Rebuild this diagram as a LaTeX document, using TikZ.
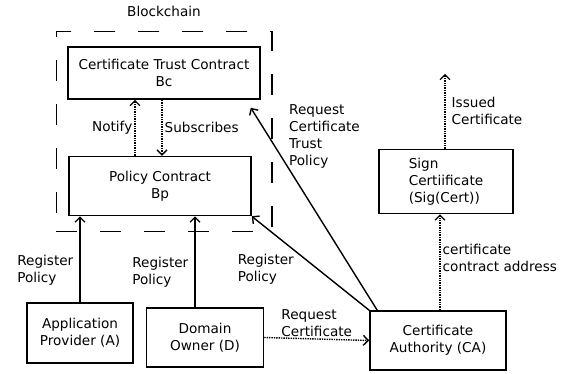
\documentclass[tikz,border=0pt]{standalone}
\usepackage{fontspec}
\setmainfont{DejaVu Sans}
\usetikzlibrary{arrows.meta,positioning,fit,backgrounds}

\begin{document}
\begin{tikzpicture}[
  >={Straight Barb[length=5pt,width=10pt]},
  font=\fontsize{13.6}{17}\selectfont,
  box/.style={draw, line width=1.5pt, align=center, inner sep=2pt},
  flow/.style={->, line width=1.4pt},
  dflow/.style={->, line width=1.4pt, densely dotted},
  lbl/.style={align=left, inner sep=2pt},
  frame/.style={draw, line width=1.5pt, dash pattern=on 21pt off 23pt},
]

\useasboundingbox (0pt,0pt) rectangle (579pt,-373pt);

% -- Blockchain contracts --
\node[box, minimum width=192pt, minimum height=52pt] (ctc) at (164pt,-73pt)
  {Certificate Trust Contract\\Bc};
\node[box, minimum width=182pt, minimum height=59pt, below=56pt of ctc, xshift=-4pt] (policy)
  {Policy Contract\\Bp};

% -- Parties --
\node[box, minimum width=106pt, minimum height=60pt, below=86pt of policy, xshift=-80pt] (app)
  {Application\\Provider (A)};
\node[box, minimum width=117pt, minimum height=59pt, right=12pt of app, yshift=-4.5pt] (domain)
  {Domain\\Owner (D)};
\node[box, minimum width=136pt, minimum height=59pt, right=105pt of domain, yshift=-3pt] (ca)
  {Certificate\\Authority (CA)};
\node[box, align=left, minimum width=134pt, minimum height=64pt, above=96pt of ca, xshift=8pt] (sign)
  {Sign\\Certiificate\\(Sig(Cert))};
\coordinate[above=75pt of sign] (issued);

% -- Inside the chain --
\draw[dflow] ([xshift=-25pt]policy.north) -- ([xshift=-29pt]ctc.south)
  node[midway, left, lbl] {Notify};
\draw[dflow] ([xshift=-2pt]ctc.south) -- ([xshift=2pt]policy.north)
  node[midway, right, lbl] {Subscribes};

% -- Register policy --
\draw[flow] (app.north) -- (app.north |- policy.south)
  node[pos=0.37, left=4pt, lbl] {Register\\Policy};
\draw[flow] ([xshift=-10pt]domain.north) -- ([xshift=-10pt]domain.north |- policy.south)
  node[pos=0.38, left=4pt, lbl] {Register\\Policy};
\draw[flow] (ca.north west) -- (policy.south east)
  node[pos=0.5, left=14pt, yshift=-6pt, lbl] {Register\\Policy};

% -- Certificate authority --
\draw[flow] ([xshift=8pt]ca.north west) -- ([xshift=-10pt,yshift=-8pt]ctc.south east)
  node[pos=0.86, right=18pt, lbl] {Request\\Certificate\\Trust\\Policy};
\draw[dflow] (domain.east) -- (ca.west)
  node[midway, above, lbl] {Request\\Certificate};
\draw[dflow] ([xshift=2pt]ca.north) -- ([xshift=2pt]ca.north |- sign.south)
  node[pos=0.55, right, lbl] {certificate\\contract address};
\draw[dflow] ([xshift=-1pt]sign.north) -- ([xshift=-1pt]issued)
  node[midway, right=4pt, lbl] {Issued\\Certificate};

% -- Blockchain frame --
\node[frame, fit=(ctc)(policy), inner xsep=11pt, inner ysep=15pt,
      label={[label distance=10pt]above:Blockchain}] (chain) {};

\end{tikzpicture}
\end{document}
